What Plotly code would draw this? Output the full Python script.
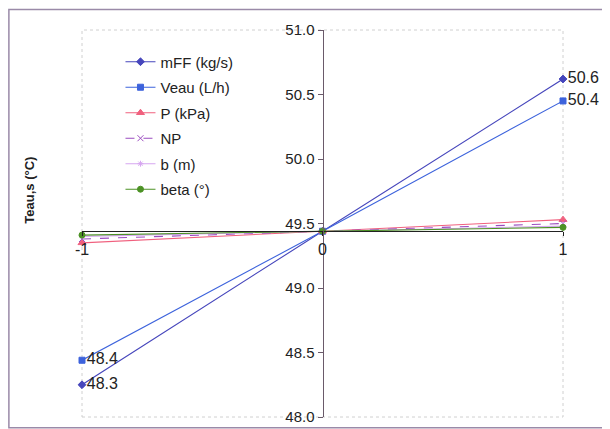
import plotly.graph_objects as go

X = [-1, 0, 1]
X_TICKS = ["-1", "0", "1"]
Y_TICKS = [48.0, 48.5, 49.0, 49.5, 50.0, 50.5, 51.0]

M_FF = [48.25, 49.44, 50.62]
VEAU = [48.44, 49.44, 50.45]
P_KPA = [49.35, 49.44, 49.53]
NP = [49.38, 49.44, 49.50]
B_M = [49.40, 49.44, 49.48]
BETA = [49.41, 49.44, 49.47]

M_FF_LABELS = ["48.3", "", "50.6"]
VEAU_LABELS = ["48.4", "", "50.4"]

FONT = "Arial, Liberation Sans, sans-serif"

series = [
    ("mFF (kg/s)", M_FF, M_FF_LABELS, "#4646bc", "diamond", "solid", 6),
    ("Veau (L/h)", VEAU, VEAU_LABELS, "#3d63dc", "square", "solid", 6),
    ("P (kPa)", P_KPA, None, "#f0607e", "triangle-up", "solid", 7),
    ("NP", NP, None, "#9b4cc0", "x-thin", "dash", 6),
    ("b (m)", B_M, None, "#d6a6f0", "asterisk", "solid", 5),
    ("beta (°)", BETA, None, "#4c9225", "circle", "solid", 6),
]

fig = go.Figure()
for i, (name, ys, labels, color, symbol, dash, size) in enumerate(series):
    fig.add_trace(
        go.Scatter(
            x=X,
            y=ys,
            name=name,
            legendgroup=f"g{i}",
            mode="lines+markers+text" if labels else "lines+markers",
            text=labels,
            textposition="middle right",
            textfont=dict(size=16, color="#222222", family=FONT),
            cliponaxis=False,
            line=dict(color=color, width=1.1, dash=dash),
            marker=dict(color=color, symbol=symbol, size=size,
                        line=dict(color=color, width=1)),
        )
    )

y_lo, y_hi = 48.0, 51.0
cross = 49.44

fig.update_xaxes(
    range=[-1, 1],
    tickvals=X,
    ticktext=X_TICKS,
    anchor="free",
    position=(cross - y_lo) / (y_hi - y_lo),
    automargin=False,
    showline=True,
    linecolor="#222222",
    linewidth=1,
    ticks="outside",
    ticklen=4,
    tickcolor="#222222",
    showgrid=False,
    zeroline=False,
    tickfont=dict(size=16, color="#222222", family=FONT),
)
fig.update_yaxes(
    range=[y_lo, y_hi],
    tickvals=Y_TICKS,
    tickformat=".1f",
    anchor="free",
    position=0.5,
    automargin=False,
    showline=True,
    linecolor="#6a5a6a",
    linewidth=1,
    ticks="outside",
    ticklen=5,
    tickcolor="#6a5a6a",
    showgrid=False,
    zeroline=False,
    tickfont=dict(size=15, color="#222222", family=FONT),
)

# dotted plot-area frame
fig.add_shape(type="rect", xref="paper", yref="paper", x0=0, x1=1, y0=0, y1=1,
              line=dict(color="#d0d0d0", width=1, dash="dot"), layer="below")
# outer chart frame
fig.add_shape(type="rect", xref="paper", yref="paper", x0=-0.152, x1=1.12, y0=-0.028, y1=1.053,
              line=dict(color="#9a8aa8", width=1.5), layer="below")

fig.add_annotation(
    text="<b>Teau,s (°C)</b>",
    xref="paper", yref="paper", x=-0.108, y=0.585,
    xanchor="center", yanchor="middle",
    textangle=-90, showarrow=False,
    font=dict(size=13, color="#222222", family=FONT),
)

fig.update_layout(
    width=602,
    height=421,
    margin=dict(l=74, r=47, t=22, b=12),
    paper_bgcolor="white",
    plot_bgcolor="white",
    font=dict(family=FONT, color="#222222"),
    showlegend=True,
    legend=dict(
        x=0.08, y=0.96, xanchor="left", yanchor="top",
        bgcolor="rgba(0,0,0,0)",
        font=dict(size=15, color="#222222", family=FONT),
        tracegroupgap=3,
        traceorder="grouped",
    ),
)

fig.write_html("out.html")
